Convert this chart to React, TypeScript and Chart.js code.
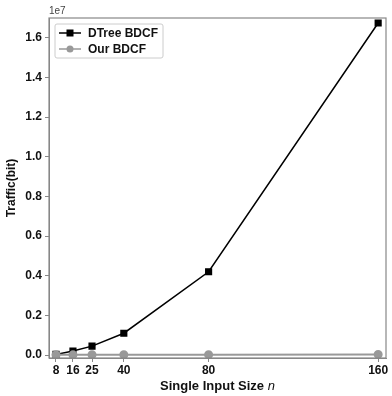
import React, { useEffect, useRef } from "react";
import { Chart, registerables } from "chart.js";

Chart.register(...registerables);

const sizes = [8, 16, 25, 40, 80, 160];
const dtreeBdcf = [0.003e7, 0.02e7, 0.045e7, 0.11e7, 0.42e7, 1.675e7];
const ourBdcf = [0.0008e7, 0.001e7, 0.0012e7, 0.0015e7, 0.002e7, 0.003e7];
const yTicks = [0, 0.2e7, 0.4e7, 0.6e7, 0.8e7, 1.0e7, 1.2e7, 1.4e7, 1.6e7];
const seriesNames = ["DTree BDCF", "Our BDCF"];

const FONT = "'Liberation Sans', Arial, sans-serif";
const GRAY = "#999";

const decorPlugin = {
  id: "decor",
  afterDraw(chart: any) {
    const { ctx, chartArea } = chart;
    const { left, right, top, bottom } = chartArea;
    ctx.save();
    // frame
    ctx.strokeStyle = "#888";
    ctx.lineWidth = 1.2;
    ctx.strokeRect(left, top, right - left, bottom - top);
    // exponent label
    ctx.fillStyle = "#444";
    ctx.font = `10px ${FONT}`;
    ctx.textAlign = "left";
    ctx.textBaseline = "bottom";
    ctx.fillText("1e7", left, top - 2);
    // x title with italic n
    ctx.fillStyle = "#111";
    ctx.textBaseline = "alphabetic";
    const main = "Single Input Size ";
    ctx.font = `bold 13px ${FONT}`;
    const w1 = ctx.measureText(main).width;
    ctx.font = `italic 13px ${FONT}`;
    const w2 = ctx.measureText("n").width;
    const cx = (left + right) / 2;
    const x0 = cx - (w1 + w2) / 2;
    ctx.font = `bold 13px ${FONT}`;
    ctx.fillText(main, x0, 390);
    ctx.font = `italic 13px ${FONT}`;
    ctx.fillText("n", x0 + w1, 390);
    // legend
    const lx = left + 6, ly = top + 6, lw = 108, lh = 34;
    ctx.fillStyle = "rgba(255,255,255,0.85)";
    ctx.strokeStyle = "#ccc";
    ctx.lineWidth = 1;
    ctx.beginPath();
    ctx.roundRect(lx, ly, lw, lh, 2);
    ctx.fill();
    ctx.stroke();
    const items = [
      { name: seriesNames[0], color: "#000", shape: "rect" },
      { name: seriesNames[1], color: GRAY, shape: "circle" },
    ];
    items.forEach((it, i) => {
      const y = ly + 9 + i * 16;
      ctx.strokeStyle = it.color;
      ctx.lineWidth = 1.5;
      ctx.beginPath();
      ctx.moveTo(lx + 4, y);
      ctx.lineTo(lx + 26, y);
      ctx.stroke();
      ctx.fillStyle = it.color;
      if (it.shape === "rect") {
        ctx.fillRect(lx + 15 - 3.5, y - 3.5, 7, 7);
      } else {
        ctx.beginPath();
        ctx.arc(lx + 15, y, 3.5, 0, Math.PI * 2);
        ctx.fill();
      }
      ctx.fillStyle = "#111";
      ctx.font = `bold 12px ${FONT}`;
      ctx.textAlign = "left";
      ctx.textBaseline = "middle";
      ctx.fillText(it.name, lx + 33, y + 1);
    });
    ctx.restore();
  },
};

export default function App() {
  const ref = useRef<HTMLCanvasElement>(null);
  useEffect(() => {
    document.body.style.margin = "0";
    const chart = new Chart(ref.current!, {
      type: "line",
      data: {
        datasets: [
          {
            label: seriesNames[1],
            data: sizes.map((s, i) => ({ x: s, y: ourBdcf[i] })),
            borderColor: GRAY,
            backgroundColor: GRAY,
            borderWidth: 2,
            pointStyle: "circle",
            pointRadius: 3.5,
          },
          {
            label: seriesNames[0],
            data: sizes.map((s, i) => ({ x: s, y: dtreeBdcf[i] })),
            borderColor: "#000",
            backgroundColor: "#000",
            borderWidth: 1.5,
            pointStyle: "rect",
            pointRadius: 4,
          },
        ],
      },
      options: {
        animation: false,
        responsive: false,
        layout: { padding: { top: 18, right: 3, left: 0, bottom: 0 } },
        plugins: { legend: { display: false }, tooltip: { enabled: false } },
        scales: {
          x: {
            type: "linear",
            min: 4.7,
            max: 163.7,
            afterBuildTicks: (axis: any) => {
              axis.ticks = sizes.map((v) => ({ value: v }));
            },
            afterFit: (axis: any) => {
              axis.height = 38;
              axis.paddingRight = 0;
              axis.paddingLeft = 0;
            },
            ticks: {
              color: "#111",
              font: { family: FONT, size: 12, weight: "bold" },
              padding: 1,
              maxRotation: 0,
              autoSkip: false,
              callback: (v: any) => String(v),
            },
            grid: { display: true, drawOnChartArea: false, tickLength: 4, color: "#888" },
            border: { display: true, color: "#888" },
          },
          y: {
            type: "linear",
            min: -0.015e7,
            max: 1.70e7,
            afterBuildTicks: (axis: any) => {
              axis.ticks = yTicks.map((v) => ({ value: v }));
            },
            afterFit: (axis: any) => {
              axis.width = 49;
              axis.paddingTop = 0;
              axis.paddingBottom = 0;
            },
            ticks: {
              color: "#111",
              font: { family: FONT, size: 12, weight: "bold" },
              padding: 3,
              callback: (v: any) => (v / 1e7).toFixed(1),
            },
            title: {
              display: true,
              text: "Traffic(bit)",
              color: "#111",
              font: { family: FONT, size: 12, weight: "bold" },
              padding: { top: 4, bottom: 0 },
            },
            grid: { display: true, drawOnChartArea: false, tickLength: 4, color: "#888" },
            border: { display: true, color: "#888" },
          },
        },
      },
      plugins: [decorPlugin],
    });
    return () => chart.destroy();
  }, []);
  return (
    <div style={{ width: 392, height: 396 }}>
      <canvas ref={ref} width={392} height={396} />
    </div>
  );
}
